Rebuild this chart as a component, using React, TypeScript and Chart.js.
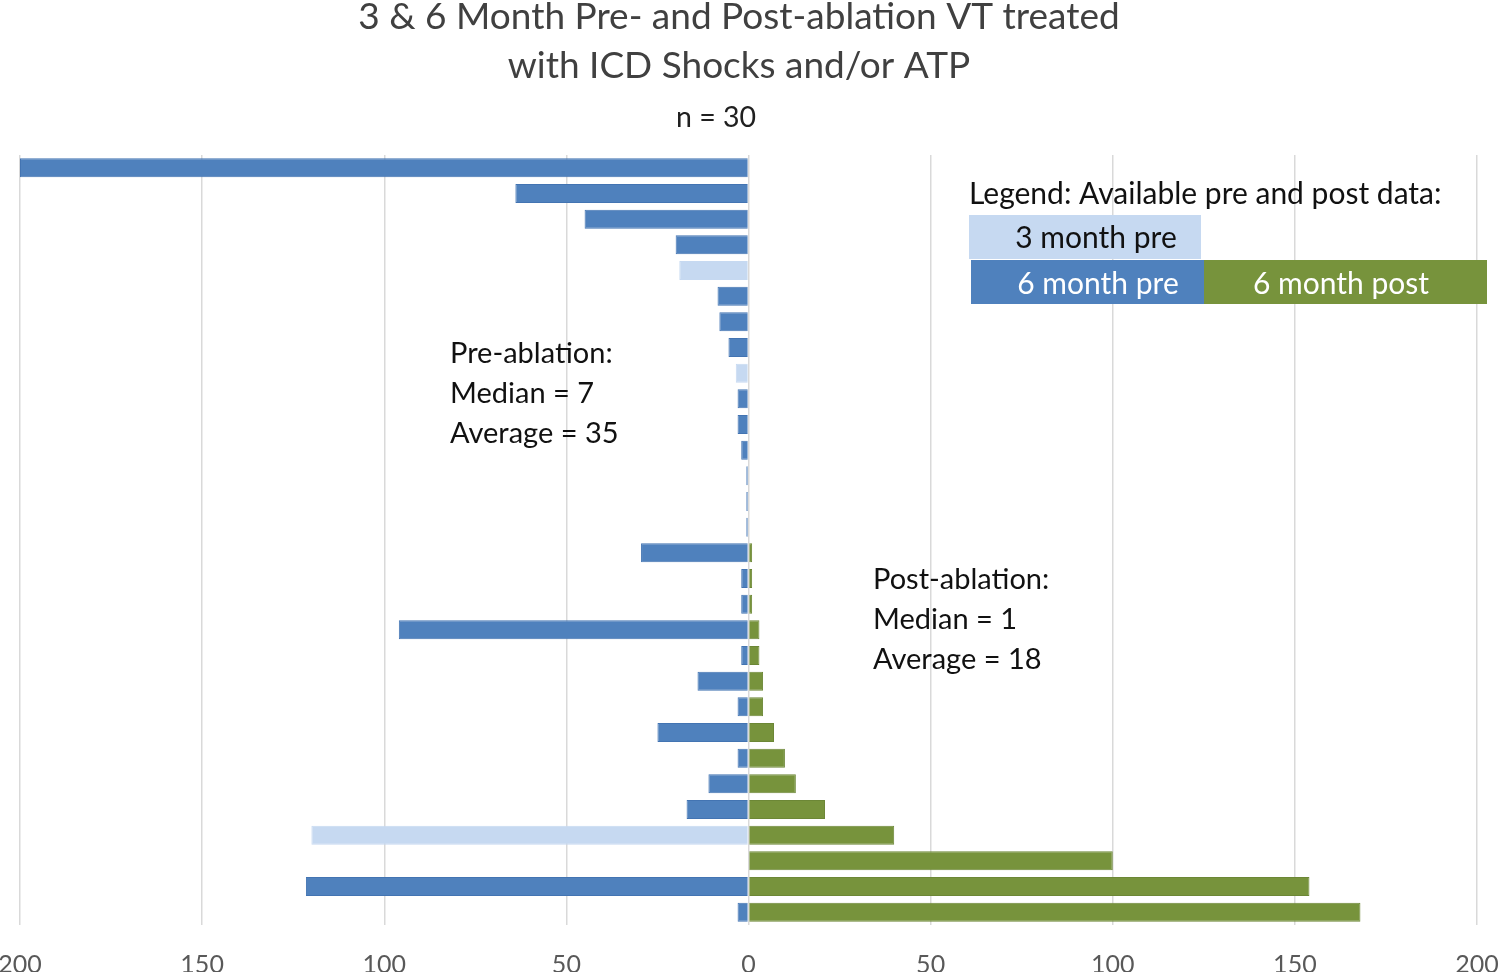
import React, { useEffect, useRef } from "react";
import { Chart, registerables } from "chart.js";

Chart.register(...registerables);

const patients = Array.from({ length: 30 }, (_, i) => `P${i + 1}`);
// pre-ablation VT episodes (drawn to the left as negative values)
const preValues = [
  -200, -64, -45, -20, -19, -8.5, -8, -5.5, -3.5, -3, -3, -2, -0.6, -0.6, -0.6,
  -29.5, -2, -2, -96, -2, -14, -3, -25, -3, -11, -17, -120, 0, -121.5, -3,
];
// window of available pre data: 3 or 6 months
const preWindow = [
  6, 6, 6, 6, 3, 6, 6, 6, 3, 6, 6, 6, 6, 6, 6,
  6, 6, 6, 6, 6, 6, 6, 6, 6, 6, 6, 3, 6, 6, 6,
];
// 6 month post-ablation VT episodes
const postValues = [
  0, 0, 0, 0, 0, 0, 0, 0, 0, 0, 0, 0, 0, 0, 0,
  1, 1, 1, 3, 3, 4, 4, 7, 10, 13, 21, 40, 100, 154, 168,
];
const xTicks = [-200, -150, -100, -50, 0, 50, 100, 150, 200];

const titleLines = ["3 & 6 Month Pre- and Post-ablation VT treated", "with ICD Shocks and/or ATP"];
const subtitle = "n = 30";
const preNote = ["Pre-ablation:", "Median = 7", "Average = 35"];
const postNote = ["Post-ablation:", "Median = 1", "Average = 18"];
const legendTitle = "Legend: Available pre and post data:";
const legendItems = ["3 month pre", "6 month pre", "6 month post"];

const BLUE = "#4F81BD";
const BLUE_BORDER = "#4374B2";
const LIGHT = "#C6D9F1";
const GREEN = "#77933C";
const GREEN_BORDER = "#6C8736";
const FONT = "Lato, 'Open Sans', sans-serif";

const textPlugin = {
  id: "texts",
  afterDatasetsDraw(chart: any) {
    const ctx = chart.ctx as CanvasRenderingContext2D;
    ctx.save();
    ctx.textBaseline = "middle";
    // title
    ctx.fillStyle = "#404040";
    ctx.textAlign = "center";
    ctx.font = `37px ${FONT}`;
    ctx.fillText(titleLines[0], 739, 17);
    ctx.fillText(titleLines[1], 739, 66);
    ctx.font = `28.5px ${FONT}`;
    ctx.fillStyle = "#202020";
    ctx.fillText(subtitle, 716, 118);

    // notes
    ctx.textAlign = "left";
    ctx.fillStyle = "#111111";
    ctx.font = `29px ${FONT}`;
    preNote.forEach((t, i) => ctx.fillText(t, 450, 354 + i * 40));
    postNote.forEach((t, i) => ctx.fillText(t, 873, 580 + i * 40));

    // legend
    ctx.font = `30px ${FONT}`;
    ctx.fillText(legendTitle, 969, 194);
    ctx.fillStyle = LIGHT;
    ctx.fillRect(969, 215, 232, 44);
    ctx.fillStyle = BLUE;
    ctx.fillRect(971, 260, 233, 44);
    ctx.fillStyle = GREEN;
    ctx.fillRect(1204, 260, 283, 44);
    ctx.textAlign = "center";
    ctx.fillStyle = "#111111";
    ctx.fillText(legendItems[0], 1096, 238);
    ctx.fillStyle = "#FFFFFF";
    ctx.fillText(legendItems[1], 1098, 284);
    ctx.fillText(legendItems[2], 1341, 284);
    ctx.restore();
  },
};

export default function App() {
  const ref = useRef<HTMLCanvasElement>(null);
  useEffect(() => {
    if (!ref.current) return;
    const chart = new Chart(ref.current, {
      type: "bar",
      data: {
        labels: patients,
        datasets: [
          {
            label: "pre",
            data: preValues,
            backgroundColor: preWindow.map((w) => (w === 3 ? LIGHT : BLUE)),
            borderColor: preWindow.map((w) => (w === 3 ? LIGHT : BLUE_BORDER)),
            borderWidth: 1,
            barPercentage: 0.74,
            categoryPercentage: 1,
          },
          {
            label: "post",
            data: postValues,
            backgroundColor: GREEN,
            borderColor: GREEN_BORDER,
            borderWidth: 1,
            barPercentage: 0.74,
            categoryPercentage: 1,
          },
        ],
      },
      options: {
        indexAxis: "y",
        responsive: false,
        animation: false,
        layout: { padding: { left: 20, right: 23, top: 155, bottom: -33 } },
        plugins: {
          legend: { display: false },
          title: { display: false },
          tooltip: { enabled: false },
        },
        scales: {
          x: {
            min: -200,
            max: 200,
            stacked: true,
            afterBuildTicks: (axis: any) => {
              axis.ticks = xTicks.map((v) => ({ value: v }));
            },
            afterFit: (axis: any) => {
              axis.paddingLeft = 0;
              axis.paddingRight = 0;
            },
            ticks: {
              callback: (v: any) => String(Math.abs(Number(v))),
              color: "#595959",
              font: { family: FONT, size: 25 },
              padding: 25,
              maxRotation: 0,
            },
            grid: { color: "#D9D9D9", lineWidth: 1.5, drawTicks: false },
            border: { display: false },
          },
          y: {
            stacked: true,
            display: false,
            grid: { display: false },
          },
        },
      },
      plugins: [textPlugin],
    });
    return () => chart.destroy();
  }, []);
  return (
    <div style={{ position: "fixed", left: 0, top: 0, width: 1500, height: 972, background: "#fff" }}>
      <canvas ref={ref} width={1500} height={972} style={{ display: "block" }} />
    </div>
  );
}
